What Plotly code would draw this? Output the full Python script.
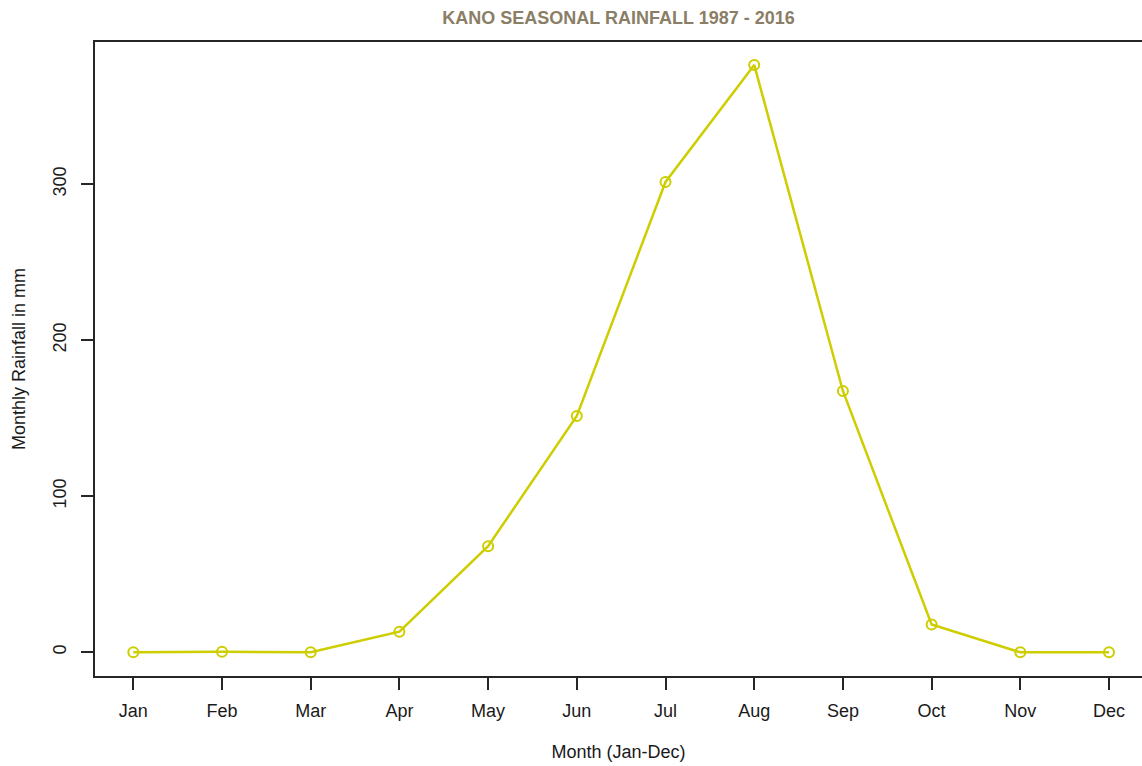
import plotly.graph_objects as go

# Mean monthly rainfall at Kano, 1987-2016 (mm)
months = ["Jan", "Feb", "Mar", "Apr", "May", "Jun",
          "Jul", "Aug", "Sep", "Oct", "Nov", "Dec"]
rainfall_mm = [0.0, 0.4, 0.0, 13.2, 68.0, 151.5,
               301.5, 376.5, 167.5, 17.8, 0.0, 0.0]
month_index = list(range(1, 13))
y_ticks = [0, 100, 200, 300]

LINE_COL = "#CDCD00"
AXIS_COL = "#262626"
TEXT_COL = "#1a1a1a"
FONT = "Liberation Sans, Arial, Helvetica, sans-serif"

fig = go.Figure()
fig.add_trace(go.Scatter(
    x=month_index,
    y=rainfall_mm,
    mode="lines+markers",
    line=dict(color=LINE_COL, width=2.5),
    marker=dict(symbol="circle-open", size=10,
                color=LINE_COL, line=dict(color=LINE_COL, width=2)),
    hoverinfo="x+y",
    showlegend=False,
))

fig.update_layout(
    width=1142,
    height=766,
    margin=dict(l=95, r=0, t=42, b=90),
    paper_bgcolor="white",
    plot_bgcolor="white",
    font=dict(family=FONT, color=TEXT_COL),
    title=dict(
        text="<b>KANO SEASONAL RAINFALL 1987 - 2016</b>",
        font=dict(family=FONT, size=18, color="#8B7E66"),
        x=0.5, xanchor="center", xref="paper",
        y=1 - 18 / 766, yanchor="middle", yref="container",
    ),
    xaxis=dict(
        range=[0.568, 12.372],
        tickmode="array",
        tickvals=month_index,
        ticktext=months,
        ticks="outside",
        ticklen=12,
        tickwidth=1.5,
        tickcolor=AXIS_COL,
        ticklabelstandoff=6,
        tickfont=dict(size=18, color=TEXT_COL),
        showline=True,
        linecolor=AXIS_COL,
        linewidth=1.5,
        mirror=True,
        showgrid=False,
        zeroline=False,
        title=dict(text="Month (Jan-Dec)",
                   font=dict(size=18, color=TEXT_COL), standoff=25),
    ),
    yaxis=dict(
        range=[-15.2, 391.2],
        tickmode="array",
        tickvals=y_ticks,
        ticktext=[str(v) for v in y_ticks],
        tickangle=-90,
        ticks="outside",
        ticklen=12,
        tickwidth=1.5,
        tickcolor=AXIS_COL,
        ticklabelstandoff=8,
        tickfont=dict(size=18, color=TEXT_COL),
        showline=True,
        linecolor=AXIS_COL,
        linewidth=1.5,
        showgrid=False,
        zeroline=False,
        title=dict(text="Monthly Rainfall in mm",
                   font=dict(size=18, color=TEXT_COL), standoff=20),
    ),
)

fig.write_html("out.html")
